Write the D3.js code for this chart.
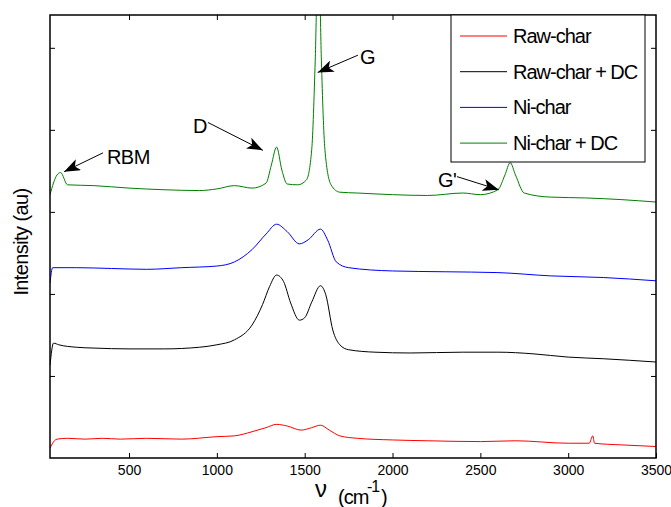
<!DOCTYPE html>
<html>
<head>
<meta charset="utf-8">
<script src="https://cdn.jsdelivr.net/npm/d3@7"></script>
<style>
    body { margin: 0; background: #fff; }
    text { font-family: "Liberation Sans", Arial, sans-serif; }
</style>
</head>
<body>
<svg id="chart" width="671" height="507"></svg>
<script>

// wavenumber (cm-1) of the points
const rawCharX = [50, 75, 90, 150, 250, 350, 450, 600, 800, 1000, 1100, 1200, 1280, 1340, 1400, 1480, 1540, 1590, 1640, 1700, 1800, 2000, 2200, 2500, 2700, 3000, 3120, 3140, 3150, 3300, 3500]
const rawCharY = [0.12, 0.21, 0.23, 0.24, 0.23, 0.24, 0.23, 0.24, 0.23, 0.26, 0.27, 0.32, 0.37, 0.41, 0.39, 0.34, 0.37, 0.40, 0.34, 0.27, 0.24, 0.22, 0.21, 0.20, 0.21, 0.18, 0.18, 0.27, 0.18, 0.16, 0.14]

const rawCharDcX = [50, 70, 100, 200, 300, 500, 700, 900, 1000, 1100, 1200, 1260, 1300, 1340, 1380, 1420, 1470, 1500, 1540, 1590, 1620, 1660, 1700, 1750, 1900, 2100, 2400, 2600, 2800, 3000, 3200, 3500]
const rawCharDcY = [1.13, 1.40, 1.38, 1.35, 1.34, 1.33, 1.33, 1.35, 1.38, 1.44, 1.62, 1.87, 2.09, 2.23, 2.15, 1.89, 1.68, 1.71, 1.90, 2.10, 1.99, 1.56, 1.38, 1.32, 1.29, 1.28, 1.29, 1.29, 1.27, 1.23, 1.21, 1.17]

const niCharX = [50, 65, 200, 400, 600, 800, 1000, 1100, 1200, 1280, 1340, 1400, 1470, 1520, 1590, 1630, 1680, 1750, 2000, 2300, 2600, 2900, 3200, 3500]
const niCharY = [2.13, 2.32, 2.32, 2.31, 2.30, 2.32, 2.34, 2.39, 2.54, 2.73, 2.85, 2.76, 2.61, 2.66, 2.79, 2.66, 2.39, 2.32, 2.28, 2.27, 2.26, 2.22, 2.20, 2.16]

const niCharDcX = [50, 90, 110, 150, 300, 500, 700, 900, 1000, 1100, 1200, 1280, 1310, 1340, 1370, 1400, 1460, 1510, 1540, 1560, 1578, 1595, 1615, 1650, 1700, 1800, 2000, 2200, 2400, 2500, 2600, 2640, 2670, 2700, 2750, 2900, 3100, 3300, 3500]
const niCharDcY = [3.21, 3.45, 3.48, 3.33, 3.32, 3.29, 3.27, 3.26, 3.28, 3.32, 3.29, 3.35, 3.57, 3.79, 3.51, 3.34, 3.33, 3.39, 3.76, 4.85, 6.3, 4.85, 3.76, 3.33, 3.24, 3.23, 3.21, 3.20, 3.23, 3.21, 3.27, 3.45, 3.60, 3.45, 3.23, 3.18, 3.17, 3.15, 3.12]

const seriesNames = ['Raw-char', 'Raw-char + DC', 'Ni-char', 'Ni-char + DC']
const seriesColors = ['#ff0000', '#000000', '#0000ff', '#008000']
const xTicks = [500, 1000, 1500, 2000, 2500, 3000, 3500]
const yTicks = [0, 1, 2, 3, 4, 5]

// peak labels: text start, arrow tail and arrow tip, in data units
const peakLabels = ['RBM', 'D', 'G', "G'"]
const peakTextX = [374, 864, 1815, 2259]
const peakTextY = [3.585, 3.96, 4.80, 3.30]
const peakTailX = [352, 949, 1803, 2367]
const peakTailY = [3.72, 4.09, 4.91, 3.43]
const peakTipX = [130, 1262, 1574, 2605]
const peakTipY = [3.49, 3.75, 4.70, 3.27]


function drawChart() {

    const width = 671
    const height = 507
    const margin = { top: 15, right: 15, bottom: 49, left: 50 }

    const innerWidth = width - margin.left - margin.right
    const innerHeight = height - margin.top - margin.bottom

    const xScale = d3.scaleLinear()
        .domain([50, 3500])
        .range([0, innerWidth])

    const yScale = d3.scaleLinear()
        .domain([0, 5.4])
        .range([innerHeight, 0])

    const svg = d3.select('#chart')

    svg.append('defs').append('clipPath')
        .attr('id', 'plotClip')
        .append('rect')
        .attr('width', innerWidth)
        .attr('height', innerHeight)

    svg.select('defs').append('marker')
        .attr('id', 'arrowHead')
        .attr('viewBox', '0 0 16 12')
        .attr('refX', 16)
        .attr('refY', 6)
        .attr('markerWidth', 16)
        .attr('markerHeight', 12)
        .attr('markerUnits', 'userSpaceOnUse')
        .attr('orient', 'auto')
        .append('path')
        .attr('d', 'M0,0 L16,6 L0,12 L4,6 Z')
        .attr('fill', '#000')

    const g = svg.append('g')
        .attr('transform', 'translate(' + margin.left + ',' + margin.top + ')')

    const traces = [
        rawCharX.map((x, i) => [x, rawCharY[i]]),
        rawCharDcX.map((x, i) => [x, rawCharDcY[i]]),
        niCharX.map((x, i) => [x, niCharY[i]]),
        niCharDcX.map((x, i) => [x, niCharDcY[i]])
    ]

    const line = d3.line()
        .x(d => xScale(d[0]))
        .y(d => yScale(d[1]))
        .curve(d3.curveMonotoneX)

    g.append('g')
        .attr('clip-path', 'url(#plotClip)')
        .selectAll('path')
        .data(traces)
        .enter()
        .append('path')
        .attr('d', line)
        .attr('fill', 'none')
        .attr('stroke', (d, i) => seriesColors[i])
        .attr('stroke-width', 1)

    // axes: ticks point inward on all four sides, labels only on the bottom
    const xAxis = d3.axisBottom(xScale).tickValues(xTicks).tickSize(-5).tickPadding(9).tickFormat(d3.format('d'))
    const xAxisTop = d3.axisTop(xScale).tickValues(xTicks.slice(0, -1)).tickSize(-5).tickFormat('')
    const yAxis = d3.axisLeft(yScale).tickValues(yTicks.slice(1)).tickSize(-5).tickFormat('')
    const yAxisRight = d3.axisRight(yScale).tickValues(yTicks.slice(1)).tickSize(-5).tickFormat('')

    g.append('g').call(xAxis)
        .attr('transform', 'translate(0,' + innerHeight + ')')
        .style('font-size', '14px')
    g.append('g').call(xAxisTop)
    g.append('g').call(yAxis)
    g.append('g').call(yAxisRight)
        .attr('transform', 'translate(' + innerWidth + ',0)')

    g.selectAll('.domain').remove()
    g.selectAll('.tick text')
        .attr('font-family', '"Liberation Sans", Arial, sans-serif')
        .attr('fill', '#000')
        .attr('dy', '0.6em')

    g.append('rect')
        .attr('width', innerWidth)
        .attr('height', innerHeight)
        .attr('fill', 'none')
        .attr('stroke', '#000')
        .attr('stroke-width', 1.5)

    // annotations
    g.selectAll('.peakArrow')
        .data(peakLabels)
        .enter()
        .append('line')
        .attr('class', 'peakArrow')
        .attr('x1', (d, i) => xScale(peakTailX[i]))
        .attr('y1', (d, i) => yScale(peakTailY[i]))
        .attr('x2', (d, i) => xScale(peakTipX[i]))
        .attr('y2', (d, i) => yScale(peakTipY[i]))
        .attr('stroke', '#000')
        .attr('stroke-width', 1)
        .attr('marker-end', 'url(#arrowHead)')

    g.selectAll('.peakLabel')
        .data(peakLabels)
        .enter()
        .append('text')
        .attr('class', 'peakLabel')
        .attr('x', (d, i) => xScale(peakTextX[i]))
        .attr('y', (d, i) => yScale(peakTextY[i]))
        .style('font-size', '20px')
        .style('letter-spacing', '-0.5px')
        .text(d => d)

    // legend
    const legend = g.append('g')
        .attr('transform', 'translate(' + (innerWidth - 205) + ',0)')

    legend.append('rect')
        .attr('width', 194)
        .attr('height', 147)
        .attr('fill', '#fff')
        .attr('stroke', '#000')
        .attr('stroke-width', 1)

    const rows = legend.selectAll('.legendRow')
        .data(seriesNames)
        .enter()
        .append('g')
        .attr('class', 'legendRow')
        .attr('transform', (d, i) => 'translate(0,' + (21 + i * 35.7) + ')')

    rows.append('line')
        .attr('x1', 9)
        .attr('x2', 56)
        .attr('stroke', (d, i) => seriesColors[i])
        .attr('stroke-width', 1)

    rows.append('text')
        .attr('x', 62)
        .attr('y', 7)
        .style('font-size', '20px')
        .style('letter-spacing', '-1px')
        .text(d => d)

    // axis titles
    svg.append('text')
        .attr('transform', 'translate(28,242) rotate(-90)')
        .attr('text-anchor', 'middle')
        .style('font-size', '20px')
        .style('letter-spacing', '-0.6px')
        .text('Intensity (au)')

    const xTitle = svg.append('g')
    xTitle.append('text').attr('x', 315).attr('y', 497).style('font-size', '24px').text('ν')
    xTitle.append('text').attr('x', 338).attr('y', 504).style('font-size', '20px').style('letter-spacing', '-1px').text('(cm')
    xTitle.append('text').attr('x', 367).attr('y', 492).style('font-size', '16px').style('letter-spacing', '-1px').text('-1')
    xTitle.append('text').attr('x', 381).attr('y', 504).style('font-size', '20px').text(')')
}

drawChart()

</script>
</body>
</html>
